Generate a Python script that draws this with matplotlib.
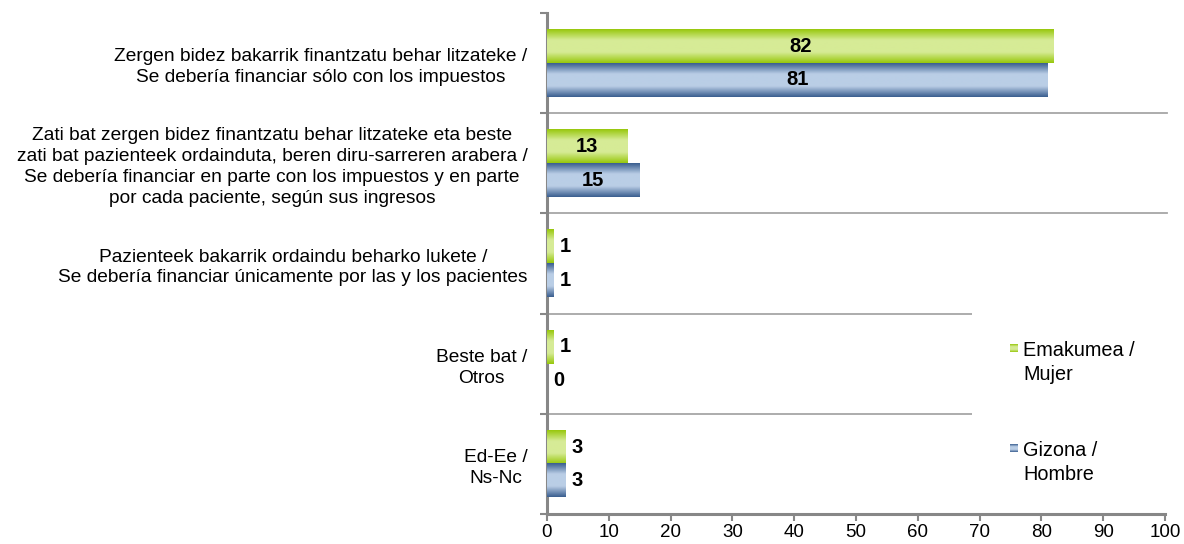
import numpy as np
import matplotlib
matplotlib.use("Agg")
import matplotlib.pyplot as plt
from matplotlib.colors import LinearSegmentedColormap
from matplotlib.patches import Rectangle

plt.rcParams['font.family'] = ['Liberation Sans', 'DejaVu Sans']

categories = [
    "Zergen bidez bakarrik finantzatu behar litzateke /\nSe debería financiar sólo con los impuestos",
    "Zati bat zergen bidez finantzatu behar litzateke eta beste\nzati bat pazienteek ordainduta, beren diru-sarreren arabera /\nSe debería financiar en parte con los impuestos y en parte\npor cada paciente, según sus ingresos",
    "Pazienteek bakarrik ordaindu beharko lukete /\nSe debería financiar únicamente por las y los pacientes",
    "Beste bat /\nOtros",
    "Ed-Ee /\nNs-Nc",
]
series_names = ["Emakumea /\nMujer", "Gizona /\nHombre"]
mujer = [82, 13, 1, 1, 3]
hombre = [81, 15, 1, 0, 3]
x_ticks = list(range(0, 101, 10))

green_dark, green_light = "#98c80e", "#d6eb96"
blue_dark, blue_light = "#3b5f90", "#bacee6"

W, H = 1184, 544
fig = plt.figure(figsize=(W / 100, H / 100), dpi=100)
ax = fig.add_axes([547 / W, 30 / H, (1165 - 547) / W, (514 - 13) / H])

n = len(categories)
y = np.arange(n)
bh = 0.335

def grad_cmap(dark, light):
    return LinearSegmentedColormap.from_list(
        "g", [(0.0, dark), (0.32, light), (0.68, light), (1.0, dark)])

prof = np.linspace(0, 1, 64).reshape(-1, 1)

def draw_bars(vals, offset, dark, light):
    bars = ax.barh(y + offset, vals, height=bh, color=light, edgecolor="none", zorder=2)
    cm = grad_cmap(dark, light)
    for b in bars:
        x0, y0 = b.get_x(), b.get_y()
        w, h = b.get_width(), b.get_height()
        if w <= 0:
            continue
        ax.imshow(prof, cmap=cm, aspect="auto", extent=[x0, x0 + w, y0 + h, y0],
                  zorder=3, interpolation="bilinear")
    return bars

bars_m = draw_bars(mujer, -bh / 2, green_dark, green_light)
bars_h = draw_bars(hombre, bh / 2, blue_dark, blue_light)

for bars, vals in ((bars_m, mujer), (bars_h, hombre)):
    for b, v in zip(bars, vals):
        yc = b.get_y() + b.get_height() / 2
        if v >= 10:
            ax.text(v / 2, yc, str(v), ha="center", va="center", fontsize=14.5,
                    fontweight="bold", zorder=5)
        else:
            ax.annotate(str(v), (v, yc), xytext=(4.5, 0), textcoords="offset points",
                        ha="left", va="center", fontsize=14.5, fontweight="bold", zorder=5)

ax.set_xlim(0, 100)
ax.set_ylim(n - 0.5, -0.5)

for k in range(1, n):
    ax.axhline(k - 0.5, xmin=0, xmax=1.003, color="#a6a6a6", lw=1.3, zorder=1, clip_on=False)

for s in ("top", "right"):
    ax.spines[s].set_visible(False)
for s in ("left", "bottom"):
    ax.spines[s].set_color("#878787")
    ax.spines[s].set_linewidth(2.2)

ax.set_xticks(x_ticks)
ax.set_xticklabels([str(t) for t in x_ticks], fontsize=13.5)
ax.tick_params(axis="x", direction="out", length=5, width=1.5, color="#878787", pad=2.5)

ax.set_yticks(np.arange(-0.5, n, 1.0))
ax.set_yticklabels([])
ax.tick_params(axis="y", which="major", direction="out", length=5, width=1.5, color="#878787")
ax.set_yticks(y, minor=True)
ax.set_yticklabels(categories, minor=True, fontsize=13.8)
ax.tick_params(axis="y", which="minor", length=0, pad=14)
for t in ax.get_yticklabels(minor=True):
    t.set_multialignment("center")
    t.set_linespacing(1.3)

fig.patches.append(Rectangle((972 / W, 1 - 480 / H), (W - 972) / W, 250 / H,
                             transform=fig.transFigure, facecolor="white",
                             edgecolor="none", zorder=1))
leg_items = [(series_names[0], green_dark, green_light, 348),
             (series_names[1], blue_dark, blue_light, 448)]
for name, dk, lt, ypix in leg_items:
    lax = fig.add_axes([1010 / W, 1 - (ypix + 4) / H, 8 / W, 8 / H], zorder=3)
    lax.imshow(prof, cmap=grad_cmap(dk, lt), aspect="auto", interpolation="bilinear")
    lax.set_axis_off()
    fig.text(1023 / W, 1 - (ypix - 7) / H, name, ha="left", va="top",
             fontsize=14.3, zorder=4, linespacing=1.3)

fig.savefig("out.png", dpi=100)
